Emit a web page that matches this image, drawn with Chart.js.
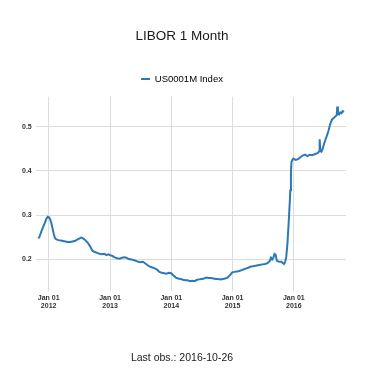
<!DOCTYPE html>
<html>
<head>
<meta charset="utf-8">
<script src="https://cdn.jsdelivr.net/npm/chart.js@4/dist/chart.umd.min.js"></script>
<style>
  html, body { margin: 0; padding: 0; background: #ffffff; }
  #wrap { width: 374px; height: 374px; position: relative; }
</style>
</head>
<body>
<div id="wrap"><canvas id="c" width="374" height="374"></canvas></div>
<script>
const title = "LIBOR 1 Month";
const seriesName = "US0001M Index";
const footerText = "Last obs.: 2016-10-26";
const tickYears = [2012, 2013, 2014, 2015, 2016];
const yTicks = [0.2, 0.3, 0.4, 0.5];

const dates = [
  "2011-10-31","2011-11-07","2011-11-14","2011-11-21","2011-11-28","2011-12-05","2011-12-12","2011-12-19","2011-12-27",
  "2012-01-03","2012-01-10","2012-01-17","2012-01-24","2012-01-31","2012-02-07","2012-02-14","2012-02-28","2012-03-13",
  "2012-03-27","2012-04-10","2012-04-24","2012-05-08","2012-05-22","2012-06-05","2012-06-19","2012-07-03","2012-07-13",
  "2012-07-24","2012-08-07","2012-08-21","2012-09-04","2012-09-18","2012-10-02","2012-10-16","2012-10-30","2012-11-13",
  "2012-11-27","2012-12-11","2012-12-21","2013-01-02","2013-01-15","2013-01-29","2013-02-12","2013-02-26","2013-03-12",
  "2013-03-26","2013-04-09","2013-04-23","2013-05-07","2013-05-21","2013-06-04","2013-06-18","2013-07-02","2013-07-16",
  "2013-07-30","2013-08-13","2013-08-27","2013-09-10","2013-09-24","2013-10-08","2013-10-22","2013-11-05","2013-11-19",
  "2013-12-03","2013-12-17","2013-12-31","2014-01-14","2014-01-28","2014-02-11","2014-02-25","2014-03-11","2014-03-25",
  "2014-04-08","2014-04-22","2014-05-06","2014-05-20","2014-06-03","2014-06-17","2014-07-01","2014-07-15","2014-07-29",
  "2014-08-12","2014-08-26","2014-09-09","2014-09-23","2014-10-07","2014-10-21","2014-11-04","2014-11-18","2014-12-02",
  "2014-12-16","2014-12-30","2015-01-13","2015-01-27","2015-02-10","2015-02-24","2015-03-10","2015-03-24","2015-04-07",
  "2015-04-21","2015-05-05","2015-05-19","2015-06-02","2015-06-16","2015-06-30","2015-07-14","2015-07-28","2015-08-11",
  "2015-08-18","2015-08-25","2015-09-01","2015-09-08","2015-09-15","2015-09-22","2015-10-06","2015-10-20","2015-10-27",
  "2015-11-03","2015-11-10","2015-11-17","2015-11-24","2015-12-01","2015-12-08","2015-12-11","2015-12-15","2015-12-18",
  "2015-12-22","2015-12-29","2016-01-12","2016-01-26","2016-02-09","2016-02-23","2016-03-08","2016-03-22","2016-04-05",
  "2016-04-19","2016-05-03","2016-05-17","2016-05-24","2016-05-31","2016-06-03","2016-06-07","2016-06-14","2016-06-21",
  "2016-06-28","2016-07-05","2016-07-12","2016-07-19","2016-07-26","2016-08-02","2016-08-09","2016-08-16","2016-08-23",
  "2016-08-30","2016-09-06","2016-09-13","2016-09-16","2016-09-20","2016-09-27","2016-10-04","2016-10-11","2016-10-18",
  "2016-10-26"
];
const values = [
  0.247,0.250,0.258,0.265,0.272,0.278,0.285,0.292,0.296,
  0.295,0.290,0.282,0.270,0.258,0.248,0.245,0.243,0.242,
  0.241,0.240,0.239,0.239,0.240,0.241,0.244,0.247,0.249,
  0.247,0.243,0.237,0.229,0.219,0.216,0.214,0.212,0.211,
  0.212,0.209,0.211,0.209,0.207,0.204,0.202,0.201,0.203,
  0.204,0.203,0.200,0.199,0.198,0.196,0.194,0.193,0.194,
  0.190,0.186,0.183,0.181,0.179,0.176,0.171,0.169,0.168,
  0.167,0.169,0.168,0.163,0.158,0.156,0.155,0.153,0.152,
  0.152,0.150,0.151,0.150,0.153,0.154,0.155,0.156,0.158,
  0.157,0.157,0.156,0.155,0.155,0.154,0.155,0.156,0.158,
  0.163,0.170,0.171,0.172,0.173,0.175,0.177,0.179,0.181,
  0.183,0.184,0.185,0.186,0.187,0.188,0.189,0.191,0.196,
  0.203,0.199,0.203,0.212,0.210,0.196,0.194,0.194,0.191,
  0.189,0.193,0.205,0.235,0.280,0.330,0.356,0.400,0.420,
  0.424,0.428,0.425,0.427,0.431,0.435,0.437,0.434,0.437,
  0.436,0.438,0.440,0.441,0.445,0.472,0.446,0.444,0.450,
  0.460,0.468,0.476,0.483,0.492,0.502,0.511,0.517,0.519,
  0.522,0.524,0.527,0.546,0.530,0.528,0.533,0.531,0.536,
  0.534
];

const lineColor = '#2b79b8';
const points = dates.map((d, i) => ({ x: Date.parse(d), y: values[i] }));

const legendGap = {
  id: 'legendGap',
  beforeInit(chart) {
    const lg = chart.legend;
    if (!lg) return;
    const fit = lg.fit.bind(lg);
    lg.fit = function () { fit(); this.height += 3; };
  }
};

new Chart(document.getElementById('c'), {
  type: 'line',
  plugins: [legendGap],
  data: {
    datasets: [{
      label: seriesName,
      data: points,
      borderColor: lineColor,
      backgroundColor: lineColor,
      borderWidth: 2,
      pointRadius: 0,
      tension: 0,
      fill: false
    }]
  },
  options: {
    responsive: false,
    animation: false,
    devicePixelRatio: 1,
    layout: { padding: { left: 18, right: 28, top: 0, bottom: 4 } },
    plugins: {
      title: {
        display: true, text: title, color: '#1a1a1a',
        font: { family: 'Liberation Sans', size: 13.5, weight: 'normal' },
        padding: { top: 28, bottom: 14 }
      },
      subtitle: {
        display: true, text: footerText, position: 'bottom', color: '#1a1a1a',
        font: { family: 'Liberation Sans', size: 10.5, weight: 'normal' },
        padding: { top: 38, bottom: 6 }
      },
      legend: {
        display: true, position: 'top',
        labels: {
          color: '#1a1a1a',
          font: { family: 'Liberation Sans', size: 9.5 },
          boxWidth: 9, boxHeight: 2, padding: 16,
          generateLabels: (chart) => chart.data.datasets.map((ds, i) => ({
            text: ds.label, fillStyle: lineColor, strokeStyle: lineColor,
            lineWidth: 0, hidden: false, datasetIndex: i
          }))
        }
      },
      tooltip: { enabled: false }
    },
    scales: {
      x: {
        type: 'linear',
        min: Date.parse('2011-10-16'),
        max: Date.parse('2016-11-07'),
        border: { display: false },
        grid: { color: '#dcdcdc', lineWidth: 1, drawTicks: false },
        afterBuildTicks: (axis) => { axis.ticks = tickYears.map(y => ({ value: Date.UTC(y, 0, 1) })); },
        ticks: {
          color: '#333333', padding: 3, maxRotation: 0, autoSkip: false,
          font: { family: 'Liberation Sans', size: 7, weight: 'bold' },
          callback: (v) => ['Jan 01', String(new Date(v).getUTCFullYear())]
        }
      },
      y: {
        min: 0.1285, max: 0.5686,
        border: { display: false },
        grid: { color: '#dcdcdc', lineWidth: 1, drawTicks: false },
        afterBuildTicks: (axis) => { axis.ticks = yTicks.map(v => ({ value: v })); },
        ticks: {
          color: '#333333', padding: 4,
          font: { family: 'Liberation Sans', size: 7, weight: 'bold' },
          callback: (v) => v.toFixed(1)
        }
      }
    }
  }
});
</script>
</body>
</html>
